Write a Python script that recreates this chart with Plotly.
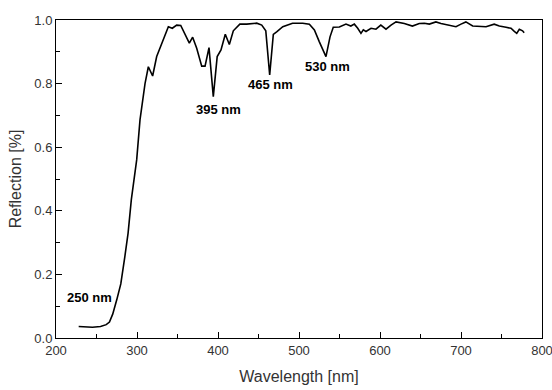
import plotly.graph_objects as go

wavelength = [228, 235, 245, 255, 262, 266, 270, 275, 280, 285, 289, 293, 299.6, 303.7, 309.9, 314, 319.3, 324.3,
              332.5, 338.7, 343.6, 349, 354, 359, 364.6, 368.7, 373.7, 379.9, 384, 388.9, 394.2, 399, 403.7,
              409, 414, 418.9, 427, 435.4, 447.8, 454, 459, 463.8, 468.3, 472.4, 480, 492, 504.6, 512.8, 519,
              525, 533.3, 538.3, 542.3, 549.8, 558, 564, 568.3, 572.5, 576.5, 579.4, 582.7, 588.9, 595, 601,
              607.4, 613.6, 619.8, 630, 640, 648.5, 654.7, 660.9, 669, 675.3, 683.5, 693.8, 700, 706, 714.4,
              722.6, 730.9, 741, 747.3, 755.6, 761.7, 765.8, 768.8, 772, 776, 778]
reflection = [0.036, 0.035, 0.034, 0.036, 0.042, 0.05, 0.075, 0.12, 0.17, 0.256, 0.33, 0.435, 0.56, 0.686, 0.80,
              0.853, 0.824, 0.885, 0.937, 0.979, 0.974, 0.984, 0.983, 0.958, 0.927, 0.946, 0.911, 0.855, 0.855,
              0.913, 0.759, 0.885, 0.906, 0.955, 0.923, 0.966, 0.987, 0.987, 0.99, 0.984, 0.966, 0.827, 0.955,
              0.963, 0.979, 0.99, 0.99, 0.987, 0.969, 0.932, 0.885, 0.947, 0.977, 0.978, 0.987, 0.981, 0.987,
              0.974, 0.958, 0.969, 0.964, 0.974, 0.971, 0.984, 0.971, 0.984, 0.994, 0.989, 0.981, 0.989, 0.99,
              0.987, 0.994, 0.989, 0.984, 0.979, 0.987, 0.994, 0.981, 0.979, 0.979, 0.987, 0.981, 0.977, 0.974,
              0.964, 0.958, 0.971, 0.966, 0.960]

label_texts = ["250 nm", "395 nm", "465 nm", "530 nm"]
label_x = [241, 401, 465, 535]
label_y = [0.128, 0.72, 0.798, 0.855]

fig = go.Figure()
fig.add_trace(go.Scatter(x=wavelength, y=reflection, mode="lines",
                         line=dict(color="black", width=1.6), showlegend=False))

for t, x, y in zip(label_texts, label_x, label_y):
    fig.add_annotation(x=x, y=y, text="<b>%s</b>" % t, showarrow=False,
                       font=dict(family="Liberation Sans, Arial", size=13, color="black"))

axis_common = dict(showline=True, linecolor="black", linewidth=1, mirror=True,
                   ticks="inside", ticklen=6, tickcolor="black", showgrid=False, zeroline=False,
                   ticklabeloverflow="allow",
                   tickfont=dict(family="Liberation Sans, Arial", size=13, color="#333"))

fig.update_xaxes(range=[200, 800], tickvals=[200, 300, 400, 500, 600, 700, 800],
                 minor=dict(ticks="inside", ticklen=4, dtick=50, tick0=200, tickcolor="black"),
                 title=dict(text="Wavelength [nm]", standoff=14,
                            font=dict(family="Liberation Sans, Arial", size=16, color="#333")),
                 **axis_common)
fig.update_yaxes(range=[0, 1.0], tickvals=[0, 0.2, 0.4, 0.6, 0.8, 1.0], tickformat=".1f",
                 minor=dict(ticks="inside", ticklen=4, dtick=0.1, tick0=0, tickcolor="black"),
                 title=dict(text="Reflection [%]", standoff=8,
                            font=dict(family="Liberation Sans, Arial", size=16, color="#333")),
                 **axis_common)

fig.update_layout(width=552, height=390, margin=dict(l=56, r=10, t=20, b=52, autoexpand=False),
                  plot_bgcolor="white", paper_bgcolor="white")

fig.write_html("out.html")
